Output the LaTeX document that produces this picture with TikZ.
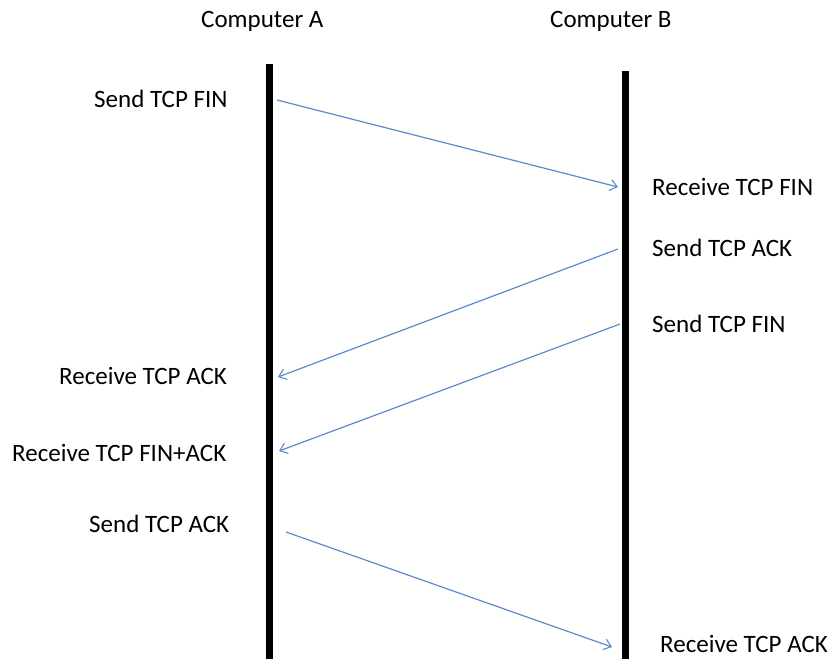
\documentclass[tikz,border=0pt]{standalone}
\usepackage{fontspec}
\setmainfont{Carlito}
\usetikzlibrary{arrows.meta}
\definecolor{msgblue}{HTML}{5B8BCB}
\tikzset{
  lbl/.style={inner sep=0pt, font=\fontsize{25}{29}\selectfont},
  lifeline/.style={line width=7pt, black},
  msg/.style={draw=msgblue, line width=1.2pt, -{Straight Barb[length=7pt,width=11pt,line width=1.1pt]}}
}
\begin{document}
\begin{tikzpicture}[x=1pt,y=-1pt]
\useasboundingbox (0,0) rectangle (830,659);
% host headings
\node[lbl, anchor=base west] (hA) at (201,27) {Computer A};
\node[lbl, anchor=base west] (hB) at (550,27) {Computer B};
% lifelines
\coordinate (a0) at (269.5,64);
\coordinate (a1) at (269.5,659);
\coordinate (b0) at (625.5,71);
\coordinate (b1) at (625.5,659);
\draw[lifeline] (a0) -- (a1);
\draw[lifeline] (b0) -- (b1);
% event labels, host A side
\node[lbl, anchor=base west] (l1) at (94,107) {Send TCP FIN};
\node[lbl, anchor=base west] (l2) at (59,384) {Receive TCP ACK};
\node[lbl, anchor=base west] (l3) at (12,461) {Receive TCP FIN+ACK};
\node[lbl, anchor=base west] (l4) at (89,532) {Send TCP ACK};
% event labels, host B side
\node[lbl, anchor=base west] (r1) at (652,195) {Receive TCP FIN};
\node[lbl, anchor=base west] (r2) at (652,256) {Send TCP ACK};
\node[lbl, anchor=base west] (r3) at (652,332) {Send TCP FIN};
\node[lbl, anchor=base west] (r4) at (660,652) {Receive TCP ACK};
% message end points
\coordinate (s1) at (277,100);
\coordinate (e1) at (618,187);
\coordinate (s2) at (618,249);
\coordinate (e2) at (278,377);
\coordinate (s3) at (620,324);
\coordinate (e3) at (279,451);
\coordinate (s4) at (286,532);
\coordinate (e4) at (612,647);
% messages
\draw[msg] (s1) -- (e1);
\draw[msg] (s2) -- (e2);
\draw[msg] (s3) -- (e3);
\draw[msg] (s4) -- (e4);
\end{tikzpicture}
\end{document}
